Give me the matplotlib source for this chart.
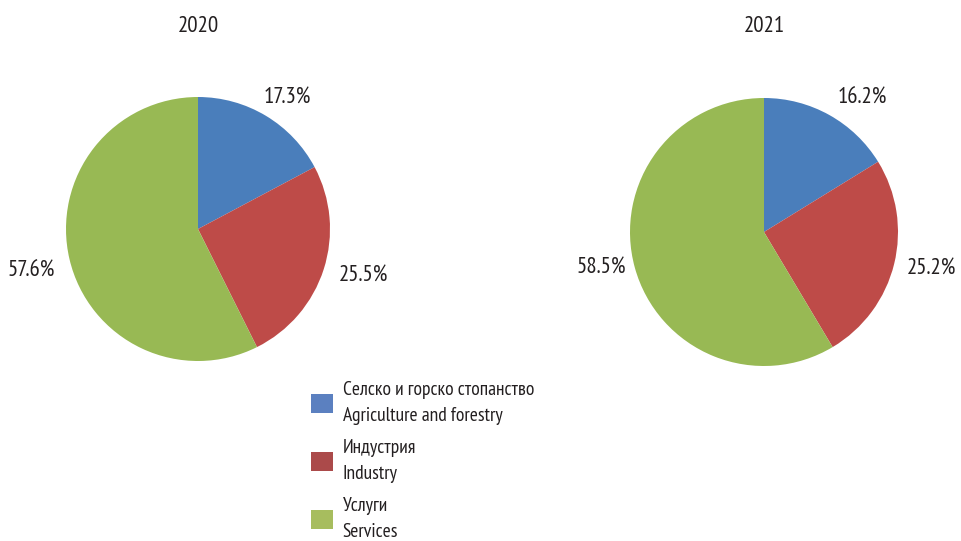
import numpy as np
import matplotlib
matplotlib.use("Agg")
import matplotlib.pyplot as plt
from matplotlib.patches import Patch
from matplotlib import font_manager

names = {f.name for f in font_manager.fontManager.ttflist}
candidates = ['PT Sans Narrow', 'Roboto Condensed', 'Fira Sans Condensed',
              'Open Sans Condensed', 'Archivo Narrow', 'Asap Condensed', 'Liberation Sans']
chosen = next(c for c in candidates if c in names)
plt.rcParams['font.family'] = [chosen, 'DejaVu Sans']

years = ['2020', '2021']
categories = ['Селско и горско стопанство\nAgriculture and forestry',
              'Индустрия\nIndustry',
              'Услуги\nServices']
values_2020 = [17.3, 25.5, 57.6]
values_2021 = [16.2, 25.2, 58.5]
pct_labels_2020 = ['17.3%', '25.5%', '57.6%']
pct_labels_2021 = ['16.2%', '25.2%', '58.5%']

pie_colors = ['#4a7ebb', '#be4b48', '#98b954']
legend_colors = ['#5b80c0', '#ab4a4a', '#a7bd5e']
text_color = '#231f20'

W, H = 962, 541
fig = plt.figure(figsize=(W / 100, H / 100), dpi=100)

def add_pie(cx, cy, r, vals, labels, dists, title, title_y):
    ax = fig.add_axes([(cx - r) / W, 1 - (cy + r) / H, 2 * r / W, 2 * r / H])
    wedges, _ = ax.pie(vals, colors=pie_colors, startangle=90, counterclock=False,
                       wedgeprops=dict(linewidth=0))
    ax.set_xlim(-1, 1)
    ax.set_ylim(-1, 1)
    ax.set_aspect('equal')
    for w, lab, (dr, dth) in zip(wedges, labels, dists):
        ang = np.deg2rad((w.theta1 + w.theta2) / 2 + dth)
        ax.text(dr * np.cos(ang), dr * np.sin(ang), lab, ha='center', va='center',
                fontsize=16.5, color=text_color, clip_on=False)
    ax.text(0, (cy - title_y) / r, title, ha='center', va='center', fontsize=16.5,
            color=text_color, clip_on=False)
    return ax

add_pie(198, 229, 132, values_2020, pct_labels_2020,
        [(1.206, -3.0), (1.30, 2.3), (1.30, 0.8)], years[0], 27)
add_pie(764, 232, 134, values_2021, pct_labels_2021,
        [(1.239, -7.0), (1.28, 1.6), (1.24, -3.2)], years[1], 27)

handles = [Patch(facecolor=c, edgecolor='none') for c in legend_colors]
leg = fig.legend(handles, categories, loc='upper left', bbox_to_anchor=(311 / W, 1 - 381 / H),
                 frameon=False, fontsize=14, handlelength=1.13, handleheight=1.13,
                 handletextpad=0.5, labelspacing=0.72, labelcolor=text_color, borderpad=0,
                 borderaxespad=0)
for t in leg.get_texts():
    t.set_linespacing(1.58)

fig.savefig('out.png', dpi=100)
